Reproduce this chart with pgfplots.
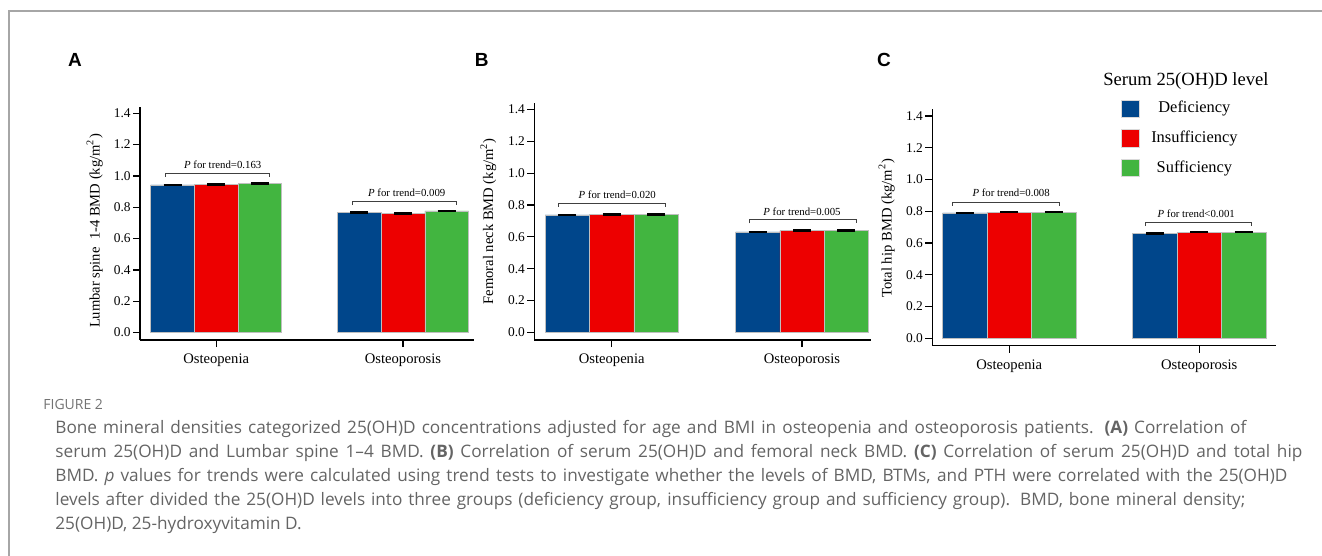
\documentclass[border=0pt]{standalone}
\usepackage{pgfplots}
\pgfplotsset{compat=1.18}
\usepackage{fontspec}
\setmainfont{Liberation Serif}
\newfontfamily\capfont{Open Sans}
\newfontfamily\panelfont{Liberation Sans}

\definecolor{defblue}{HTML}{00468B}
\definecolor{insred}{HTML}{ED0000}
\definecolor{sufgreen}{HTML}{42B540}
\definecolor{capgray}{HTML}{646464}

\pgfplotsset{
  bmdpanel/.style={
    scale only axis,
    anchor=south west,
    clip=false,
    ybar=0pt,
    axis x line*=bottom,
    axis y line*=left,
    axis line style={line width=0.6pt, black, -},
    ymin=-0.047, ymax=1.442,
    ytick={0,0.2,0.4,0.6,0.8,1.0,1.2,1.4},
    xtick={0,1},
    xticklabels={Osteopenia,Osteoporosis},
    tick align=outside,
    major tick length=3.5pt,
    tick style={line width=0.6pt, black},
    /pgf/number format/fixed,
    /pgf/number format/fixed zerofill,
    /pgf/number format/precision=1,
    /pgf/number format/assume math mode=true,
    yticklabel style={font=\fontsize{6.7}{7}\selectfont, inner sep=1pt},
    xticklabel style={font=\fontsize{7.3}{8}\selectfont},
    ylabel style={font=\fontsize{7.3}{8}\selectfont, anchor=center},
    every axis plot/.append style={draw=black!25, line width=0.3pt},
    error bars/y dir=both,
    error bars/y explicit,
    error bars/error bar style={black, line width=0.4pt},
    error bars/error mark options={rotate=90, black, line width=1pt, mark size=4.5pt},
  },
}
\tikzset{
  ptext/.style={font=\fontsize{5.4}{6}\selectfont, anchor=center},
  bracket/.style={black!75, line width=0.4pt},
}

\begin{document}
\begin{tikzpicture}
\useasboundingbox (0pt,0pt) rectangle (661pt,-278pt);
\draw[black!35, line width=0.8pt] (4.5pt,-278pt) -- (4.5pt,-5.5pt) -- (661pt,-5.5pt);

% panel letters
\node[font=\panelfont\bfseries\fontsize{9.5}{10}\selectfont] at (37.5pt,-30pt) {A};
\node[font=\panelfont\bfseries\fontsize{9.5}{10}\selectfont] at (240.9pt,-30pt) {B};
\node[font=\panelfont\bfseries\fontsize{9.5}{10}\selectfont] at (442pt,-30pt) {C};

% A: lumbar spine
\begin{axis}[bmdpanel, at={(70pt,-170pt)}, width=167pt, height=116.65pt,
  xmin=-0.408, xmax=1.380, bar width=0.234,
  ylabel={Lumbar spine\ \ 1-4 BMD (kg/m\textsuperscript{2})},
  ylabel style={at={(axis description cs:-0.1356,0.467)}}]
\addplot[fill=defblue] coordinates {(0,0.943) +- (0,0.002) (1,0.766) +- (0,0.002)};
\addplot[fill=insred] coordinates {(0,0.947) +- (0,0.002) (1,0.759) +- (0,0.002)};
\addplot[fill=sufgreen] coordinates {(0,0.951) +- (0,0.002) (1,0.777) +- (0,0.002)};
\draw[bracket] (axis cs:-0.272,0.995) |- (axis cs:0.285,1.017) -- (axis cs:0.285,0.995);
\node[ptext] at (axis cs:0.035,1.07) {\textit{P} for trend=0.163};
\draw[bracket] (axis cs:0.728,0.814) |- (axis cs:1.285,0.836) -- (axis cs:1.285,0.814);
\node[ptext] at (axis cs:1.02,0.89) {\textit{P} for trend=0.009};
\end{axis}

% B: femoral neck
\begin{axis}[bmdpanel, at={(267.15pt,-170pt)}, width=168.2pt, height=118.65pt,
  xmin=-0.407, xmax=1.361, bar width=0.233,
  ylabel={Femoral neck BMD (kg/m\textsuperscript{2})},
  ylabel style={at={(axis description cs:-0.1367,0.5)}}]
\addplot[fill=defblue] coordinates {(0,0.738) +- (0,0.002) (1,0.631) +- (0,0.002)};
\addplot[fill=insred] coordinates {(0,0.742) +- (0,0.002) (1,0.640) +- (0,0.002)};
\addplot[fill=sufgreen] coordinates {(0,0.742) +- (0,0.002) (1,0.640) +- (0,0.002)};
\draw[bracket] (axis cs:-0.281,0.789) |- (axis cs:0.281,0.811) -- (axis cs:0.281,0.789);
\node[ptext] at (axis cs:0.029,0.863) {\textit{P} for trend=0.020};
\draw[bracket] (axis cs:0.724,0.685) |- (axis cs:1.286,0.707) -- (axis cs:1.286,0.685);
\node[ptext] at (axis cs:1.0,0.759) {\textit{P} for trend=0.005};
\end{axis}

% C: total hip
\begin{axis}[bmdpanel, at={(466.15pt,-172.85pt)}, width=171.85pt, height=118.2pt,
  xmin=-0.405, xmax=1.404, bar width=0.234,
  ylabel={Total hip BMD (kg/m\textsuperscript{2})},
  ylabel style={at={(axis description cs:-0.1327,0.497)}},
  legend style={at={(axis description cs:0.548,1.052)}, anchor=north west,
    draw=none, fill=none, inner sep=0pt, row sep=3.5pt, column sep=4pt,
    font=\fontsize{8.2}{9}\selectfont},
  legend cell align=center,
  legend image code/.code={\draw[#1, draw=black!15] (0pt,-4.4pt) rectangle (8.8pt,4.4pt);}]
\addplot[fill=defblue] coordinates {(0,0.789) +- (0,0.002) (1,0.661) +- (0,0.002)};
\addplot[fill=insred] coordinates {(0,0.795) +- (0,0.002) (1,0.669) +- (0,0.002)};
\addplot[fill=sufgreen] coordinates {(0,0.795) +- (0,0.002) (1,0.669) +- (0,0.002)};
\legend{Deficiency,Insufficiency,Sufficiency}
\draw[bracket] (axis cs:-0.298,0.835) |- (axis cs:0.262,0.857) -- (axis cs:0.262,0.835);
\node[ptext] at (axis cs:0.01,0.917) {\textit{P} for trend=0.008};
\draw[bracket] (axis cs:0.714,0.706) |- (axis cs:1.272,0.728) -- (axis cs:1.272,0.706);
\node[ptext] at (axis cs:0.984,0.783) {\textit{P} for trend<0.001};
\node[font=\fontsize{9.3}{10}\selectfont, anchor=center] at (axis description cs:0.738,1.12) {Serum 25(OH)D level};
\end{axis}

% caption
\begin{scope}[every node/.style={anchor=west, inner sep=0pt, text height=1.5ex, text depth=0.3ex, text=capgray,
    font=\capfont\fontsize{8.6}{10}\selectfont}]
\node[font=\capfont\fontsize{7}{8}\selectfont, text=black!55] at (21.5pt,-202pt) {FIGURE 2};
\node at (27.5pt,-214pt) {\makebox[595.5pt][s]{Bone mineral densities categorized 25(OH)D concentrations adjusted for age and BMI in osteopenia and osteoporosis patients. \textbf{(A)} Correlation of}};
\node at (27.5pt,-226pt) {\makebox[623.5pt][s]{serum 25(OH)D and Lumbar spine 1–4 BMD. \textbf{(B)} Correlation of serum 25(OH)D and femoral neck BMD. \textbf{(C)} Correlation of serum 25(OH)D and total hip}};
\node at (27.5pt,-238pt) {\makebox[616pt][s]{BMD. \textit{p} values for trends were calculated using trend tests to investigate whether the levels of BMD, BTMs, and PTH were correlated with the 25(OH)D}};
\node at (27.5pt,-250pt) {\makebox[595pt][s]{levels after divided the 25(OH)D levels into three groups (deficiency group, insufficiency group and sufficiency group). BMD, bone mineral density;}};
\node at (27.5pt,-262pt) {25(OH)D, 25-hydroxyvitamin D.};
\end{scope}
\end{tikzpicture}
\end{document}
